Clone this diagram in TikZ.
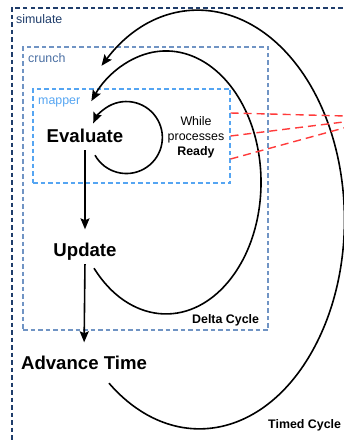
\documentclass[tikz,border=0pt]{standalone}
\usepackage{fontspec}
\setmainfont{Liberation Sans}
\usetikzlibrary{arrows.meta}
\definecolor{simblue}{HTML}{1F3D6B}
\definecolor{crunchblue}{HTML}{7094C4}
\definecolor{crunchtext}{HTML}{4A6FA3}
\definecolor{mapblue}{HTML}{55A5F2}
\definecolor{linkred}{HTML}{FF3B3B}
\tikzset{
  stage/.style={font=\fontsize{18.6}{20}\selectfont\bfseries, inner sep=0pt,
    text height=13.5pt, text depth=4pt, anchor=base},
  lbl/.style={font=\fontsize{12.4}{15}\selectfont, inner sep=0pt, anchor=base west},
  region/.style={draw, dash pattern=on 4.5pt off 3pt, line width=1.1pt, inner sep=0pt},
  flow/.style={->, line width=1.6pt, shorten <=4pt, shorten >=13pt},
  ring/.style={->, line width=1.6pt},
  link/.style={draw=linkred, line width=1.4pt, dash pattern=on 8pt off 5pt}
}
\begin{document}
\begin{tikzpicture}[x=1pt, y=-1pt, >={Stealth[length=11pt,width=9pt,inset=2pt]}]
\useasboundingbox (0,0) rectangle (344,441);
\clip (0,0) rectangle (344,441);
% nested regions
\node [region, simblue, minimum width=348, minimum height=452] (simulate) at (186,234) {};
\node [region, crunchblue, minimum width=245, minimum height=283] (crunch) at (145.5,188.5) {};
\node [region, mapblue, minimum width=197, minimum height=94] (mapper) at (131.5,136) {};
\node [lbl, simblue] (simlbl) at (16,24) {simulate};
\node [lbl, crunchtext] (crunchlbl) at (28,63) {crunch};
\node [lbl, mapblue] (maplbl) at (38,105) {mapper};
% stages
\node [stage] (eval) at (85,142) {Evaluate};
\node [stage] (upd) at (85,256) {Update};
\node [stage] (adv) at (84,369) {Advance Time};
\node [align=center, font=\fontsize{12.4}{15}\selectfont, inner sep=0pt] (ready) at (196,137)
  {While\\processes\\\textbf{Ready}};
\node [lbl, font=\fontsize{12.4}{15}\selectfont\bfseries] (delta) at (192,323) {Delta Cycle};
\node [lbl, font=\fontsize{12.4}{15}\selectfont\bfseries] (timed) at (268,428) {Timed Cycle};
\draw [flow] (eval.south) -- (upd.north);
\draw [flow] (upd.south) -- (adv.north);
% the three cycles
\draw [ring] ([shift={(10,9)}]eval.south) arc [start angle=150.6, end angle=-157, radius=36];
\draw [ring] ([shift={(9,8)}]upd.south) arc [start angle=139.3, end angle=-141.8, x radius=95, y radius=131.5];
\draw [ring] ([shift={(25,10)}]adv.south) arc [start angle=128.6, end angle=-132.5, x radius=145, y radius=209];
% links out of the mapper
\coordinate (far) at (384,117);
\draw [link] ([yshift=23pt]mapper.east) -- (far);
\draw [link] (mapper.east) -- (far);
\draw [link] ([yshift=-23pt]mapper.east) -- (far);
\end{tikzpicture}
\end{document}
